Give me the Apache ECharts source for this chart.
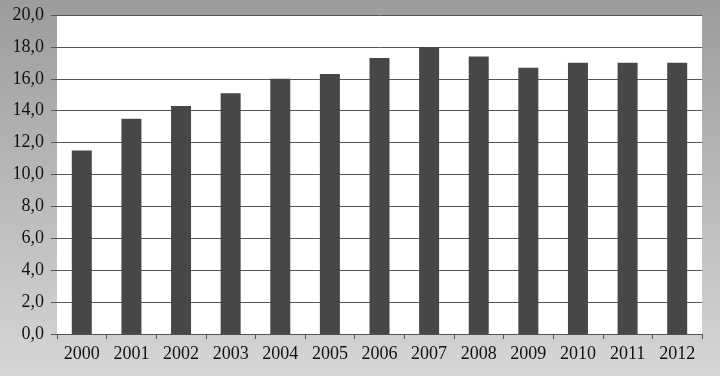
<!DOCTYPE html>
<html>
<head>
<meta charset="utf-8">
<title>chart</title>
<script src="https://cdn.jsdelivr.net/npm/echarts@6/dist/echarts.min.js"></script>
</head>
<body style="margin:0;">
<div id="main" style="width:720px;height:376px;"></div>
<script type="text/javascript">
    var years = ['2000', '2001', '2002', '2003', '2004', '2005', '2006', '2007', '2008', '2009', '2010', '2011', '2012'];
    var values = [11.5, 13.5, 14.3, 15.1, 16.0, 16.3, 17.3, 18.0, 17.4, 16.7, 17.0, 17.0, 17.0];

    var myChart = echarts.init(document.getElementById('main'));
    var option = {
        backgroundColor: {
            type: 'linear', x: 0, y: 0, x2: 0, y2: 1,
            colorStops: [
                {offset: 0, color: '#9c9c9c'},
                {offset: 1, color: '#d6d6d6'}
            ]
        },
        grid: {
            left: 57,
            right: 18,
            top: 15,
            bottom: 42,
            show: true,
            backgroundColor: '#ffffff',
            borderWidth: 0
        },
        xAxis: {
            type: 'category',
            data: years,
            axisLine: {lineStyle: {color: '#555', width: 1}},
            axisTick: {show: true, length: 5, lineStyle: {color: '#555'}},
            axisLabel: {
                color: '#111',
                fontFamily: 'Liberation Serif',
                fontSize: 18,
                margin: 11
            }
        },
        yAxis: {
            type: 'value',
            min: 0,
            max: 20,
            interval: 2,
            axisLine: {show: false},
            axisTick: {show: true, length: 6, lineStyle: {color: '#555'}},
            splitLine: {lineStyle: {color: '#555', width: 1}},
            axisLabel: {
                color: '#111',
                fontFamily: 'Liberation Serif',
                fontSize: 18,
                margin: 13,
                formatter: function (v) {
                    return v.toFixed(1).replace('.', ',');
                }
            }
        },
        series: [{
            type: 'bar',
            data: values,
            barWidth: 20,
            itemStyle: {color: '#474747'}
        }]
    };
    myChart.setOption(option);
</script>
</body>
</html>
